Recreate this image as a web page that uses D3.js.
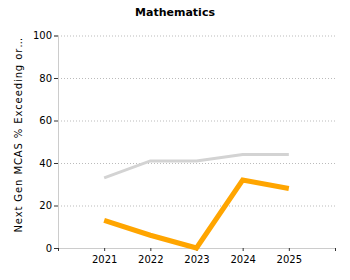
<!DOCTYPE html>
<html><head><meta charset="utf-8">
<script src="https://cdn.jsdelivr.net/npm/d3@7"></script>
<style>body{margin:0;background:#fff}svg{display:block}text{font-family:Verdana,"DejaVu Sans",sans-serif}</style>
</head><body>
<svg id="c" width="350" height="280"></svg>
<script>
const years = [2021, 2022, 2023, 2024, 2025];
const stateValues = [33, 41, 41, 44, 44];
const districtValues = [13, 6, 0, 32, 28];
const yTicks = [0, 20, 40, 60, 80, 100];
const title = "Mathematics";
const yLabel = "Next Gen MCAS % Exceeding or…";

const svg = d3.select("#c");
const m = {l: 58, r: 15, t: 35.5, b: 32};
const W = 350, H = 280;
const x = d3.scaleLinear().domain([2020, 2026]).range([m.l, W - m.r]);
const y = d3.scaleLinear().domain([0, 100]).range([H - m.b, m.t]);

svg.append("text").attr("x", 175).attr("y", 16).attr("text-anchor", "middle")
  .attr("font-size", 11).attr("font-weight", "bold").text(title);

// grid
svg.append("g").selectAll("line").data(yTicks.filter(d => d > 0)).join("line")
  .attr("x1", m.l).attr("x2", W - m.r).attr("y1", d => y(d) + 0.5).attr("y2", d => y(d) + 0.5)
  .attr("stroke", "#bbb").attr("stroke-dasharray", "1,2");

const ya = svg.append("g").attr("transform", `translate(${m.l},0)`)
  .call(d3.axisLeft(y).tickValues(yTicks).tickSize(4).tickPadding(2));
ya.select(".domain").attr("stroke", "#ccc");
ya.selectAll(".tick line").attr("stroke", "#333");
ya.selectAll("text").attr("font-size", 10).attr("fill", "#000");

const xa = svg.append("g").attr("transform", `translate(0,${H - m.b})`)
  .call(d3.axisBottom(x).tickValues([2020, ...years, 2026]).tickSize(3).tickPadding(5)
    .tickFormat(d => years.includes(d) ? String(d) : ""));
xa.select(".domain").attr("stroke", "#ccc");
xa.selectAll(".tick line").attr("stroke", "#333");
xa.selectAll("text").attr("font-size", 10).attr("fill", "#000");

svg.append("text").attr("transform", `translate(22,${(m.t + H - m.b) / 2 - 7}) rotate(-90)`)
  .attr("text-anchor", "middle").attr("font-size", 10).attr("letter-spacing", 0.9).text(yLabel);

const line = d3.line().x((d, i) => x(years[i])).y(d => y(d));
svg.append("path").datum(stateValues).attr("d", line).attr("fill", "none")
  .attr("stroke", "#d3d3d3").attr("stroke-width", 3);
svg.append("path").datum(districtValues).attr("d", line).attr("fill", "none")
  .attr("stroke", "#ffa500").attr("stroke-width", 5);
</script>
</body></html>
